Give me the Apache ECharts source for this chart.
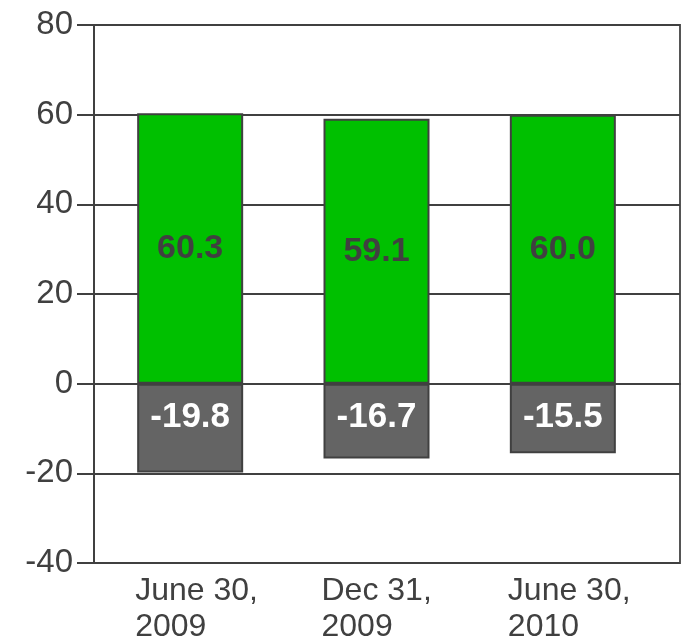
<!DOCTYPE html>
<html>
<head>
<meta charset="utf-8">
<script src="https://cdn.jsdelivr.net/npm/echarts@6/dist/echarts.min.js"></script>
<style>
  html, body { margin: 0; padding: 0; background: #fff; }
  #chart { width: 681px; height: 643px; }
</style>
</head>
<body>
<div id="chart"></div>
<script>
// Period labels along the bottom axis
const categories = ['June 30,\n2009', 'Dec 31,\n2009', 'June 30,\n2010'];
// Positive (green) and negative (grey) components per period
const positiveValues = [60.3, 59.1, 60.0];
const negativeValues = [-19.8, -16.7, -15.5];
// Value axis range and step
const yMin = -40;
const yMax = 80;
const yStep = 20;

const FONT = '"Liberation Sans", Arial, Helvetica, sans-serif';
const INK = '#404040';

const chart = echarts.init(document.getElementById('chart'), null, { renderer: 'canvas' });

chart.setOption({
  animation: false,
  backgroundColor: '#ffffff',
  grid: [
    // frame: value axis, grid lines and right border
    { left: 94, right: 1, top: 25, bottom: 80, show: true, borderColor: '#555555', borderWidth: 2, backgroundColor: 'transparent' },
    // bars
    { left: 97, right: 25, top: 25, bottom: 80 }
  ],
  xAxis: [
    {
      gridIndex: 0, type: 'category', data: categories,
      axisLine: { show: true, lineStyle: { color: INK, width: 2 } },
      axisTick: { show: false }, axisLabel: { show: false }, splitLine: { show: false }
    },
    {
      gridIndex: 1, type: 'category', data: categories,
      axisLine: { show: false }, axisTick: { show: false },
      axisLabel: {
        margin: 10,
        formatter: function (v) {
          return v.split('\n').map(function (s) { return '{t|' + s + '}'; }).join('\n');
        },
        rich: {
          t: { fontFamily: FONT, fontSize: 32, color: INK, lineHeight: 36, width: 110, align: 'left' }
        }
      }
    }
  ],
  yAxis: [
    {
      gridIndex: 0, type: 'value', min: yMin, max: yMax, interval: yStep,
      axisLine: { show: true, lineStyle: { color: INK, width: 2 } },
      axisTick: { show: true, inside: false, length: 17, lineStyle: { color: INK, width: 2 } },
      axisLabel: { margin: 21, fontFamily: FONT, fontSize: 33, color: INK },
      splitLine: { show: true, lineStyle: { color: INK, width: 2 } }
    },
    {
      gridIndex: 1, type: 'value', min: yMin, max: yMax, interval: yStep,
      show: false, splitLine: { show: false }
    }
  ],
  series: [
    {
      type: 'bar', xAxisIndex: 1, yAxisIndex: 1,
      data: positiveValues, barWidth: 106, barGap: '-100%',
      itemStyle: { color: '#00c000', borderColor: INK, borderWidth: 2 },
      label: {
        show: true, position: 'inside', fontFamily: FONT, fontSize: 34, fontWeight: 'bold', color: INK,
        formatter: function (p) { return p.value.toFixed(1); }
      }
    },
    {
      type: 'bar', xAxisIndex: 1, yAxisIndex: 1,
      data: negativeValues, barWidth: 106, barGap: '-100%',
      itemStyle: { color: '#646464', borderColor: INK, borderWidth: 2 },
      label: {
        show: true, position: 'insideTop', distance: 16, fontFamily: FONT, fontSize: 35, fontWeight: 'bold', color: '#ffffff',
        formatter: function (p) { return p.value.toFixed(1); }
      }
    }
  ]
});
</script>
</body>
</html>
